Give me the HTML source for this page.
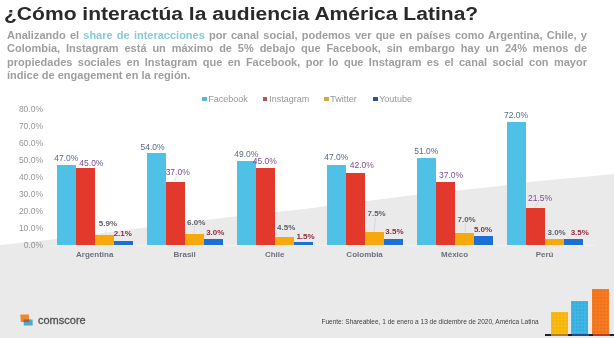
<!DOCTYPE html>
<html><head><meta charset="utf-8">
<style>
*{margin:0;padding:0;box-sizing:border-box}
html,body{width:614px;height:338px;overflow:hidden;background:#fff}
body{position:relative;font-family:"Liberation Sans",sans-serif}
.wave{position:absolute;left:0;top:0;width:614px;height:338px}
.title{position:absolute;left:4px;top:2.8px;font-size:17.5px;font-weight:bold;color:#2a2a2a;white-space:nowrap;transform-origin:0 0;transform:scaleX(1.203);line-height:22px}
.para{position:absolute;left:7px;top:29.4px;width:580px;font-size:11px;font-weight:bold;color:#9e9e9e;line-height:13.1px}
.para .hl{color:#85cbd9}
.pl{text-align:justify;text-align-last:justify;height:13.1px}
.pl.last{text-align-last:left}
.legend{position:absolute;top:94px;left:0;font-size:9px;color:#969696;white-space:nowrap}
.legend span{position:absolute;top:0}
.legend i{position:absolute;width:4.8px;height:4px;top:3px}
.bar{position:absolute}
.lbl{position:absolute;width:40px;text-align:center;font-size:8px;line-height:8px;white-space:nowrap}
.cn{position:absolute;top:249.5px;width:60px;text-align:center;font-size:8px;font-weight:bold;color:#6c717d;line-height:9px}
.yl{position:absolute;left:13px;width:30px;text-align:right;font-size:8.5px;color:#969696;line-height:10px}
.src{position:absolute;left:321.5px;top:318px;font-size:6.5px;color:#3f3f3f;white-space:nowrap;transform-origin:0 0}
.logo{position:absolute;left:38px;top:314px;font-size:11px;color:#525252;line-height:13px;-webkit-text-stroke:0.3px #525252}
.deco{position:absolute}
#root{position:absolute;left:0;top:0;width:614px;height:338px;background:#fff;overflow:hidden;filter:blur(0.3px)}
</style></head><body><div id="root">
<svg class="wave" width="614" height="338" viewBox="0 0 614 338">
<path d="M0 245 L50 239.8 L130 229.5 L230 217 L300 209.5 L410 195.5 L500 186 L534 181.5 L614 174 L614 338 L0 338 Z" fill="#eaeaea"/>
</svg>
<div class="title">¿Cómo interactúa la audiencia América Latina?</div>
<div class="para"><div class="pl">Analizando el <span class="hl">share de interacciones</span> por canal social, podemos ver que en países como Argentina, Chile, y</div><div class="pl">Colombia, Instagram está un máximo de 5% debajo que Facebook, sin embargo hay un 24% menos de</div><div class="pl">propiedades sociales en Instagram que en Facebook, por lo que Instagram es el canal social con mayor</div><div class="pl last">índice de engagement en la región.</div></div>
<div class="legend">
<i style="left:202px;background:#58b8cc"></i><span style="left:208.3px">Facebook</span>
<i style="left:262.6px;background:#bb5550"></i><span style="left:269.2px">Instagram</span>
<i style="left:324.4px;background:#d4aa40"></i><span style="left:330.2px">Twitter</span>
<i style="left:372.8px;background:#2b5590"></i><span style="left:379.2px">Youtube</span>
</div>
<div class="bar" style="left:56.70px;bottom:93.5px;width:19.0px;height:79.9px;background:#4fc1e6"></div>
<div class="bar" style="left:75.70px;bottom:93.5px;width:19.0px;height:76.5px;background:#e3382c"></div>
<div class="bar" style="left:94.70px;bottom:93.5px;width:19.0px;height:10.0px;background:#f7a80d"></div>
<div class="bar" style="left:113.70px;bottom:93.5px;width:19.0px;height:3.6px;background:#1c6fd3"></div>
<div class="lbl" style="left:46.3px;top:153.5px;color:#5a6a86;font-weight:normal;font-size:8.5px">47.0%</div>
<div class="lbl" style="left:71.4px;top:159.0px;color:#774f8c;font-weight:normal;font-size:8.5px">45.0%</div>
<div class="lbl" style="left:87.9px;top:220.1px;color:#5e5d6c;font-weight:bold;font-size:8px">5.9%</div>
<div class="lbl" style="left:102.8px;top:229.9px;color:#922a3e;font-weight:bold;font-size:8px">2.1%</div>
<div class="cn" style="left:64.7px">Argentina</div>
<div class="bar" style="left:146.68px;bottom:93.5px;width:19.0px;height:91.8px;background:#4fc1e6"></div>
<div class="bar" style="left:165.68px;bottom:93.5px;width:19.0px;height:62.9px;background:#e3382c"></div>
<div class="bar" style="left:184.68px;bottom:93.5px;width:19.0px;height:10.2px;background:#f7a80d"></div>
<div class="bar" style="left:203.68px;bottom:93.5px;width:19.0px;height:5.1px;background:#1c6fd3"></div>
<div class="lbl" style="left:132.6px;top:143.0px;color:#5a6a86;font-weight:normal;font-size:8.5px">54.0%</div>
<div class="lbl" style="left:157.7px;top:167.9px;color:#774f8c;font-weight:normal;font-size:8.5px">37.0%</div>
<div class="lbl" style="left:176.2px;top:219.2px;color:#5e5d6c;font-weight:bold;font-size:8px">6.0%</div>
<div class="lbl" style="left:195.3px;top:228.8px;color:#922a3e;font-weight:bold;font-size:8px">3.0%</div>
<div class="cn" style="left:154.7px">Brasil</div>
<div class="bar" style="left:236.66px;bottom:93.5px;width:19.0px;height:83.3px;background:#4fc1e6"></div>
<div class="bar" style="left:255.66px;bottom:93.5px;width:19.0px;height:76.5px;background:#e3382c"></div>
<div class="bar" style="left:274.66px;bottom:93.5px;width:19.0px;height:7.6px;background:#f7a80d"></div>
<div class="bar" style="left:293.66px;bottom:93.5px;width:19.0px;height:2.5px;background:#1c6fd3"></div>
<div class="lbl" style="left:226.3px;top:149.8px;color:#5a6a86;font-weight:normal;font-size:8.5px">49.0%</div>
<div class="lbl" style="left:244.8px;top:157.2px;color:#774f8c;font-weight:normal;font-size:8.5px">45.0%</div>
<div class="lbl" style="left:266.2px;top:223.6px;color:#5e5d6c;font-weight:bold;font-size:8px">4.5%</div>
<div class="lbl" style="left:285.5px;top:232.5px;color:#922a3e;font-weight:bold;font-size:8px">1.5%</div>
<div class="cn" style="left:244.7px">Chile</div>
<div class="bar" style="left:326.64px;bottom:93.5px;width:19.0px;height:79.9px;background:#4fc1e6"></div>
<div class="bar" style="left:345.64px;bottom:93.5px;width:19.0px;height:71.4px;background:#e3382c"></div>
<div class="bar" style="left:364.64px;bottom:93.5px;width:19.0px;height:12.8px;background:#f7a80d"></div>
<div class="bar" style="left:383.64px;bottom:93.5px;width:19.0px;height:6.0px;background:#1c6fd3"></div>
<div class="lbl" style="left:316.3px;top:153.0px;color:#5a6a86;font-weight:normal;font-size:8.5px">47.0%</div>
<div class="lbl" style="left:341.8px;top:161.1px;color:#774f8c;font-weight:normal;font-size:8.5px">42.0%</div>
<div class="lbl" style="left:356.6px;top:210.0px;color:#5e5d6c;font-weight:bold;font-size:8px">7.5%</div>
<div class="lbl" style="left:374.4px;top:228.3px;color:#922a3e;font-weight:bold;font-size:8px">3.5%</div>
<div class="cn" style="left:334.6px">Colombia</div>
<div class="bar" style="left:416.62px;bottom:93.5px;width:19.0px;height:86.7px;background:#4fc1e6"></div>
<div class="bar" style="left:435.62px;bottom:93.5px;width:19.0px;height:62.9px;background:#e3382c"></div>
<div class="bar" style="left:454.62px;bottom:93.5px;width:19.0px;height:11.9px;background:#f7a80d"></div>
<div class="bar" style="left:473.62px;bottom:93.5px;width:19.0px;height:8.5px;background:#1c6fd3"></div>
<div class="lbl" style="left:406.3px;top:146.5px;color:#5a6a86;font-weight:normal;font-size:8.5px">51.0%</div>
<div class="lbl" style="left:431.1px;top:171.4px;color:#774f8c;font-weight:normal;font-size:8.5px">37.0%</div>
<div class="lbl" style="left:446.6px;top:215.9px;color:#5e5d6c;font-weight:bold;font-size:8px">7.0%</div>
<div class="lbl" style="left:463.0px;top:225.8px;color:#922a3e;font-weight:bold;font-size:8px">5.0%</div>
<div class="cn" style="left:424.6px">México</div>
<div class="bar" style="left:506.60px;bottom:93.5px;width:19.0px;height:122.4px;background:#4fc1e6"></div>
<div class="bar" style="left:525.60px;bottom:93.5px;width:19.0px;height:36.5px;background:#e3382c"></div>
<div class="bar" style="left:544.60px;bottom:93.5px;width:19.0px;height:5.1px;background:#f7a80d"></div>
<div class="bar" style="left:563.60px;bottom:93.5px;width:19.0px;height:6.0px;background:#1c6fd3"></div>
<div class="lbl" style="left:496.1px;top:110.7px;color:#5a6a86;font-weight:normal;font-size:8.5px">72.0%</div>
<div class="lbl" style="left:520.1px;top:193.9px;color:#774f8c;font-weight:normal;font-size:8.5px">21.5%</div>
<div class="lbl" style="left:536.6px;top:229.3px;color:#5e5d6c;font-weight:bold;font-size:8px">3.0%</div>
<div class="lbl" style="left:559.8px;top:229.3px;color:#922a3e;font-weight:bold;font-size:8px">3.5%</div>
<div class="cn" style="left:514.6px">Perú</div>
<div class="yl" style="top:239.8px">0.0%</div>
<div class="yl" style="top:222.8px">10.0%</div>
<div class="yl" style="top:205.8px">20.0%</div>
<div class="yl" style="top:188.8px">30.0%</div>
<div class="yl" style="top:171.8px">40.0%</div>
<div class="yl" style="top:154.8px">50.0%</div>
<div class="yl" style="top:137.8px">60.0%</div>
<div class="yl" style="top:120.8px">70.0%</div>
<div class="yl" style="top:103.8px">80.0%</div>
<div style="position:absolute;left:50px;top:245px;width:545px;height:1.2px;background:rgba(255,255,255,0.35)"></div>
<svg style="position:absolute;left:0;top:0" width="614" height="338"><line x1="106.5" y1="228.5" x2="105.5" y2="233.5" stroke="#cfcfcf" stroke-width="0.7"/><line x1="176.5" y1="176" x2="175" y2="181" stroke="#cfcfcf" stroke-width="0.7"/><line x1="194.5" y1="226.5" x2="194" y2="233.5" stroke="#cfcfcf" stroke-width="0.7"/><line x1="375.5" y1="217.5" x2="374" y2="231.5" stroke="#cfcfcf" stroke-width="0.7"/><line x1="465.5" y1="223" x2="465" y2="232.5" stroke="#cfcfcf" stroke-width="0.7"/><line x1="538.5" y1="201.5" x2="535" y2="207.5" stroke="#cfcfcf" stroke-width="0.7"/></svg>
<div class="src">Fuente: Shareablee, 1 de enero a 13 de diciembre de 2020, América Latina</div>
<svg style="position:absolute;left:0;top:300px" width="40" height="30" viewBox="0 300 40 30">
<path d="M20.3 314.5 L28.8 314.5 L29.2 322 L20.8 322 Z" fill="#ee8a2c"/>
<path d="M23.6 319.6 L32.6 319.6 L32.6 325.6 L23.8 325.6 Z" fill="#4aaac4"/>
<path d="M23.6 319.6 L29.1 319.6 L29.2 322 L23.7 322 Z" fill="#b0563c"/>
</svg>
<div class="logo">comscore</div>
<div class="deco" style="left:550.8px;top:311.5px;width:16.8px;height:23px;background:radial-gradient(circle,rgba(200,110,0,0.18) 0.7px,transparent 1.3px) 0.5px 0.5px/3.4px 3.4px,#f9bb10"></div>
<div class="deco" style="left:571.3px;top:300.6px;width:16.8px;height:34px;background:radial-gradient(circle,rgba(0,90,160,0.16) 0.7px,transparent 1.3px) 0.5px 0.5px/3.4px 3.4px,#3fb6e4"></div>
<div class="deco" style="left:592.4px;top:289.2px;width:17.1px;height:45px;background:radial-gradient(circle,rgba(170,50,0,0.16) 0.7px,transparent 1.3px) 0.5px 0.5px/3.4px 3.4px,#f57a20"></div>
<div class="deco" style="left:545px;top:333.8px;width:69px;height:2.6px;background:#222"></div>
<div class="deco" style="left:551px;top:333.8px;width:16.5px;height:2.6px;background:#b88010"></div>
<div class="deco" style="left:572px;top:333.8px;width:16.5px;height:2.6px;background:#1d4f8a"></div>
<div class="deco" style="left:592.5px;top:333.8px;width:17px;height:2.6px;background:#c43a14"></div>
</div></body></html>
